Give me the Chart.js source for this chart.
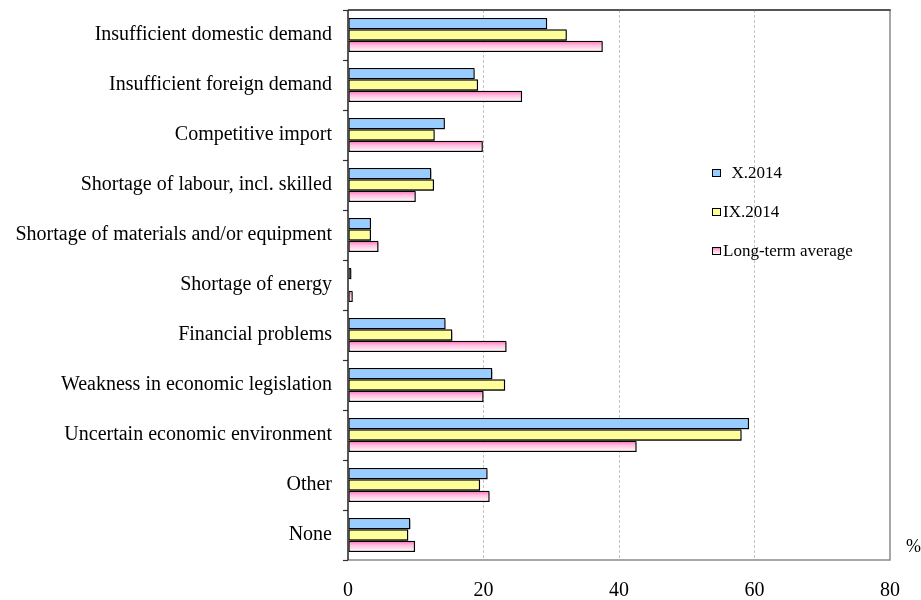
<!DOCTYPE html>
<html>
<head>
<meta charset="utf-8">
<title>Limiting factors</title>
<script src="https://cdn.jsdelivr.net/npm/chart.js@4.4.1/dist/chart.umd.min.js"></script>
<style>
  html, body { margin: 0; padding: 0; background: #ffffff; }
  #wrap { width: 921px; height: 600px; position: relative; }
</style>
</head>
<body>
<div id="wrap"><canvas id="chart" width="921" height="600"></canvas></div>
<script>
// Factors limiting activity, share of respondents (%)
const categories = [
  'Insufficient domestic demand',
  'Insufficient foreign demand',
  'Competitive import',
  'Shortage of labour, incl. skilled',
  'Shortage of materials and/or equipment',
  'Shortage of energy',
  'Financial problems',
  'Weakness in economic legislation',
  'Uncertain economic environment',
  'Other',
  'None'
];
const seriesX2014    = [29.4, 18.7, 14.3, 12.3, 3.4, 0.5, 14.4, 21.3, 59.2, 20.6, 9.2];
const seriesIX2014   = [32.3, 19.2, 12.8, 12.7, 3.4, 0.1, 15.4, 23.2, 58.1, 19.5, 8.9];
const seriesLongTerm = [37.6, 25.7, 19.9, 10.0, 4.5, 0.7, 23.4, 20.0, 42.6, 20.9, 9.9];
const seriesLabels   = ['  X.2014', 'IX.2014', 'Long-term average'];
const xTicks         = [0, 20, 40, 60, 80];

const SERIF = "'Liberation Serif', 'Times New Roman', serif";
const BLUE = '#99ccff';
const YELLOW = '#ffff99';
const PINK = '#ff88c4';

function pinkGradient(ctx, top, bottom) {
  const g = ctx.createLinearGradient(0, top, 0, bottom);
  g.addColorStop(0, '#ff66b3');
  g.addColorStop(0.4, '#ffbfdf');
  g.addColorStop(1, '#ffffff');
  return g;
}

// Per-bar vertical gradient for the long-term series, plus a soft drop shadow
const barStyling = {
  id: 'barStyling',
  beforeDatasetsDraw(chart) {
    const ctx = chart.ctx;
    const meta = chart.getDatasetMeta(2);
    meta.data.forEach(el => {
      const top = el.y - el.height / 2;
      const bottom = el.y + el.height / 2;
      el.options = Object.assign({}, el.options, { backgroundColor: pinkGradient(ctx, top, bottom) });
    });
    ctx.save();
    ctx.shadowColor = 'rgba(0,0,0,0.45)';
    ctx.shadowOffsetX = 1.5;
    ctx.shadowOffsetY = 1.5;
    ctx.shadowBlur = 0.5;
  },
  afterDatasetsDraw(chart) {
    chart.ctx.restore();
  }
};

// Plot frame, legend box and unit label
const frameAndLegend = {
  id: 'frameAndLegend',
  afterDraw(chart) {
    const ctx = chart.ctx;
    const a = chart.chartArea;
    ctx.save();
    // right and bottom edges
    ctx.strokeStyle = '#8a8a8a';
    ctx.lineWidth = 1.5;
    ctx.beginPath();
    ctx.moveTo(a.right, a.top);
    ctx.lineTo(a.right, a.bottom);
    ctx.lineTo(a.left, a.bottom);
    ctx.stroke();
    // top edge
    ctx.strokeStyle = '#555555';
    ctx.lineWidth = 2;
    ctx.beginPath();
    ctx.moveTo(a.left, a.top);
    ctx.lineTo(a.right + 0.75, a.top);
    ctx.stroke();
    // value axis origin line
    ctx.strokeStyle = '#222222';
    ctx.lineWidth = 1.5;
    ctx.beginPath();
    ctx.moveTo(a.left, a.top);
    ctx.lineTo(a.left, a.bottom);
    ctx.stroke();

    // legend
    const fills = [BLUE, YELLOW, null];
    const rowsY = [173, 212, 251];
    ctx.font = '17px ' + SERIF;
    ctx.textBaseline = 'middle';
    ctx.textAlign = 'left';
    chart.data.datasets.forEach((ds, i) => {
      const y = rowsY[i];
      const bx = 712, bw = 9, bh = 8;
      ctx.fillStyle = fills[i] || pinkGradient(ctx, y - bh / 2, y + bh / 2);
      ctx.fillRect(bx, y - bh / 2, bw, bh);
      ctx.strokeStyle = '#000';
      ctx.lineWidth = 1;
      ctx.strokeRect(bx + 0.5, y - bh / 2 + 0.5, bw - 1, bh - 1);
      ctx.fillStyle = '#000';
      ctx.fillText(ds.label, 723, y + 1);
    });

    // unit
    ctx.font = '18px ' + SERIF;
    ctx.fillText('%', 906, 547);
    ctx.restore();
  }
};

new Chart(document.getElementById('chart'), {
  type: 'bar',
  data: {
    labels: categories,
    datasets: [
      { label: seriesLabels[0], data: seriesX2014, backgroundColor: BLUE },
      { label: seriesLabels[1], data: seriesIX2014, backgroundColor: YELLOW },
      { label: seriesLabels[2], data: seriesLongTerm, backgroundColor: PINK }
    ]
  },
  options: {
    indexAxis: 'y',
    responsive: false,
    animation: false,
    devicePixelRatio: 1,
    layout: { padding: { left: 0, top: 10, right: 31, bottom: 0 } },
    datasets: {
      bar: {
        categoryPercentage: 0.68,
        barPercentage: 1.0,
        borderColor: '#000000',
        borderWidth: 1.3,
        borderSkipped: false
      }
    },
    plugins: {
      legend: { display: false },
      tooltip: { enabled: false }
    },
    scales: {
      x: {
        type: 'linear',
        min: xTicks[0],
        max: xTicks[xTicks.length - 1],
        afterBuildTicks(scale) { scale.ticks = xTicks.map(v => ({ value: v })); },
        afterFit(scale) { scale.height = 40; scale.paddingLeft = 0; scale.paddingRight = 0; },
        grid: {
          drawTicks: false,
          color: c => (c.tick && c.tick.value > 0 && c.tick.value < 80) ? '#c4c4c4' : 'rgba(0,0,0,0)',
          lineWidth: 1
        },
        border: { display: false, dash: [3, 2] },
        ticks: {
          padding: 19,
          color: '#000',
          font: { family: SERIF, size: 20 },
          maxRotation: 0
        }
      },
      y: {
        type: 'category',
        afterFit(scale) { scale.width = 348; scale.paddingTop = 0; scale.paddingBottom = 0; },
        grid: {
          offset: true,
          drawOnChartArea: false,
          drawTicks: true,
          tickLength: 5,
          tickColor: '#333333',
          tickWidth: 1.2
        },
        border: { display: false },
        ticks: {
          padding: 11,
          color: '#000',
          autoSkip: false,
          font: { family: SERIF, size: 20 }
        }
      }
    }
  },
  plugins: [barStyling, frameAndLegend]
});
</script>
</body>
</html>
